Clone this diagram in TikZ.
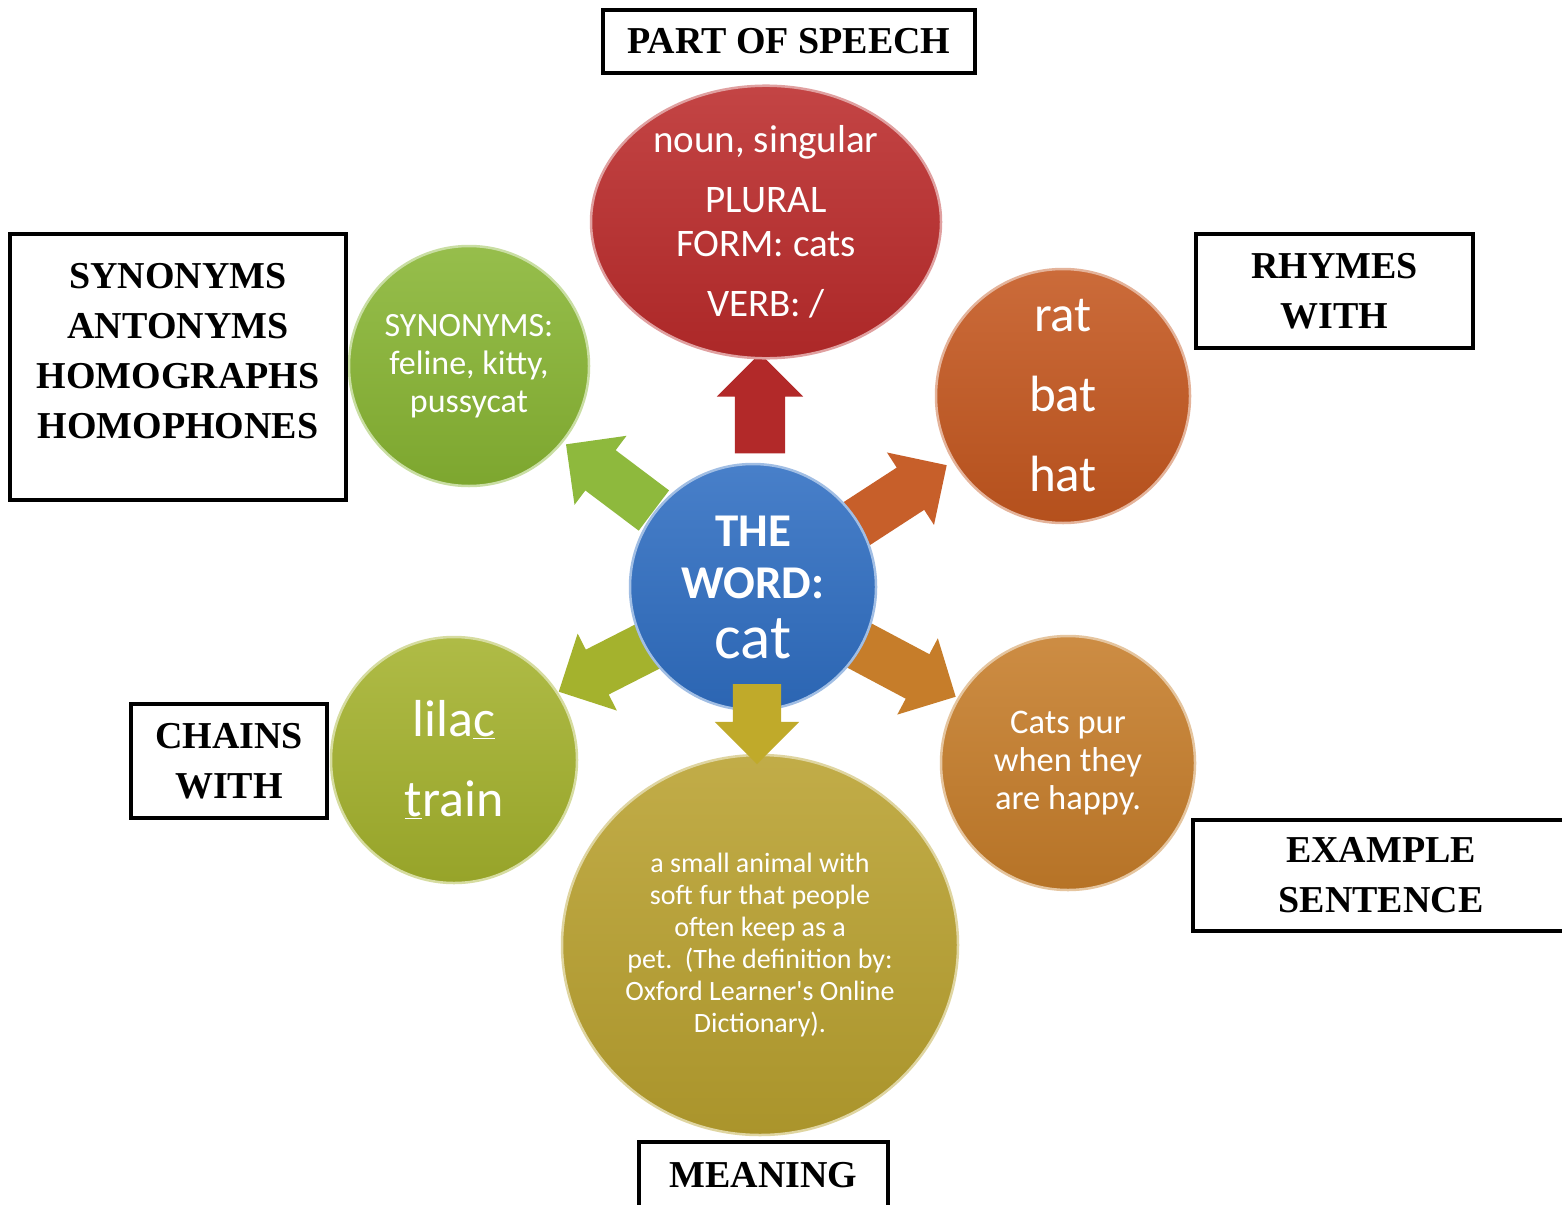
\documentclass[tikz,border=0pt]{standalone}
\usepackage{fontspec}
\setmainfont{Liberation Serif}
\newfontfamily\carl{Carlito}
\usetikzlibrary{shapes.geometric,shapes.arrows}
\definecolor{cred}{HTML}{BB2B2B}
\definecolor{cgreen}{HTML}{88B533}
\definecolor{corange}{HTML}{C4571F}
\definecolor{clime}{HTML}{A4B22D}
\definecolor{cgold}{HTML}{B9A12F}
\definecolor{camber}{HTML}{C67D2A}
\definecolor{cblue}{HTML}{2F6EC2}
\begin{document}
\begin{tikzpicture}[x=1pt,y=-1pt,
  bubble/.style={circle, draw=#1!45!white, line width=2.5pt, top color=#1!88!white, bottom color=#1!92!black,
    text=white, align=center, inner sep=0pt, minimum size=250pt},
  oval/.style={ellipse, draw=#1!45!white, line width=2.5pt, top color=#1!88!white, bottom color=#1!92!black,
    text=white, align=center, inner sep=0pt},
  barrow/.style={single arrow, draw=none, fill=#1, single arrow head extend=18pt,
    single arrow tip angle=90, inner sep=0pt, outer sep=0pt},
  labelbox/.style={draw=black, line width=4pt, fill=white, align=center, inner sep=0pt,
    font=\fontsize{38}{50}\selectfont\bfseries},
  boxtext/.style={align=center, inner sep=0pt, font=\fontsize{38}{50}\selectfont\bfseries}
]
\useasboundingbox (0,0) rectangle (1562,1204);
\fill[white] (0,0) rectangle (1562,1204);

% block arrows behind the centre
\node[barrow=cred!95!black, minimum height=100pt, rotate=90] (aup) at (760,416) {\rule{0pt}{50pt}};
\node[barrow=cgreen!95!white, minimum height=110pt, rotate=143] (aul) at (620,485) {\rule{0pt}{50pt}};
\node[barrow=corange!95!white, minimum height=110pt, rotate=33] (aur) at (890,502) {\rule{0pt}{50pt}};
\node[barrow=clime, minimum height=110pt, rotate=207] (adl) at (619,661) {\rule{0pt}{50pt}};
\node[barrow=camber, minimum height=110pt, rotate=-28] (adr) at (896,665) {\rule{0pt}{50pt}};

% outer bubbles
\node[oval=cred, minimum width=350pt, minimum height=252pt,
  font=\carl\fontsize{39}{44}\selectfont] (pos) at (766,222)
  {noun, singular\\[16pt] PLURAL\\ FORM: cats\\[16pt] VERB: /};
\node[bubble=cgreen, minimum size=240pt, font=\carl\fontsize{34}{38}\selectfont] (syn) at (469,366)
  {SYNONYMS:\\ feline, kitty,\\ pussycat};
\node[bubble=corange, minimum size=254pt, font=\carl\fontsize{51}{80}\selectfont] (rhy) at (1063,396)
  {rat\\ bat\\ hat};
\node[bubble=clime, minimum size=246pt, font=\carl\fontsize{52}{80}\selectfont] (chn) at (454,760)
  {lila\underline{c}\\ \underline{t}rain};
\node[bubble=camber, minimum size=254pt, font=\carl\fontsize{34.5}{38}\selectfont] (exs) at (1068,763)
  {Cats pur\\ when they\\ are happy.};
\node[oval=cgold, minimum width=396pt, minimum height=380pt, font=\carl\fontsize{28}{32}\selectfont] (mean) at (760,945)
  {a small animal with\\ soft fur that people\\ often keep as a\\ pet.\ \ (The definition by:\\ Oxford Learner's Online\\ Dictionary).};

% centre
\node[bubble=cblue, minimum size=246pt, font=\carl\fontsize{47}{52}\selectfont\bfseries] (word) at (753,587)
  {THE\\ WORD:\\[8pt] {\mdseries\fontsize{63}{63}\selectfont cat}};

\node[barrow=cgold!90!yellow, minimum height=80pt, rotate=-90] (adn) at (757,712) {\rule{0pt}{48pt}};

% label boxes
\node[labelbox, minimum width=372pt, minimum height=63pt] (lpos) at (789,41.5) {PART OF SPEECH};
\node[labelbox, minimum width=336pt, minimum height=266pt] (lsyn) at (178,367) {};
\node[boxtext] (lsyntext) at (178,351) {SYNONYMS\\ ANTONYMS\\ HOMOGRAPHS\\ HOMOPHONES};
\node[labelbox, minimum width=277pt, minimum height=114pt] (lrhy) at (1334.5,291) {RHYMES\\ WITH};
\node[labelbox, minimum width=196pt, minimum height=114pt] (lchn) at (229,761) {CHAINS\\ WITH};
\node[labelbox, minimum width=376pt, minimum height=111pt] (lexs) at (1381,875.5) {EXAMPLE\\ SENTENCE};
\node[labelbox, minimum width=249pt, minimum height=66pt] (lmean) at (763.5,1175) {MEANING};
\end{tikzpicture}
\end{document}
